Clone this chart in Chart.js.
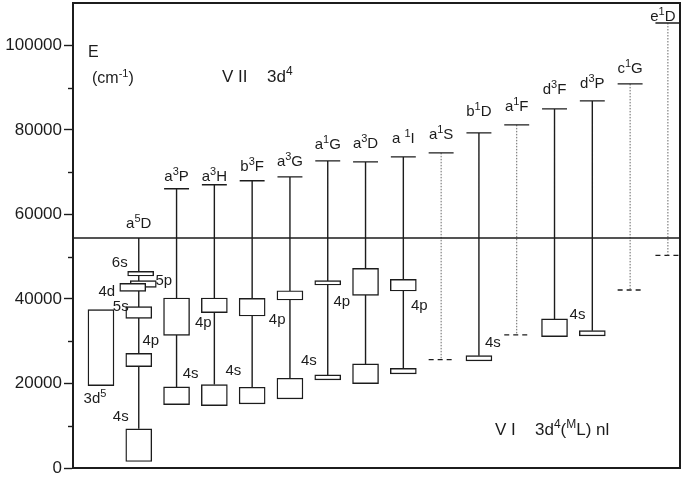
<!DOCTYPE html>
<html>
<head>
<meta charset="utf-8">
<script src="https://cdn.jsdelivr.net/npm/chart.js@4.4.0/dist/chart.umd.min.js"></script>
<style>
html, body { margin: 0; padding: 0; background: #fff; }
</style>
</head>
<body>
<canvas id="chart" width="683" height="477"></canvas>
<script>
// V II 3d4 parent terms (column 1..15), energies in cm-1
const parentTerms = ['a^{5}D', 'a^{3}P', 'a^{3}H', 'b^{3}F', 'a^{3}G', 'a^{1}G', 'a^{3}D', 'a ^{1}I', 'a^{1}S', 'b^{1}D', 'a^{1}F', 'd^{3}F', 'd^{3}P', 'c^{1}G', 'e^{1}D'];
const parentEnergy = [54411, 66050, 66990, 67940, 68880, 72660, 72420, 73610, 74550, 79280, 81170, 84950, 86840, 90860, 105270];
const parentSeen = [true, true, true, true, true, true, true, true, false, true, false, true, true, false, false];
const ionLimit = 54411;

// V I level groups drawn as boxes (column 0 = 3d5)
const boxColumn = [0, 1, 1, 1, 1, 1, 1, 2, 2, 3, 3, 4, 4, 5, 5, 6, 6, 7, 7, 8, 8, 10, 12, 13];
const boxConfig = ['3d^{5}', '6s', '5p', '4d', '5s', '4p', '4s', '4p', '4s', '4p', '4s', '4p', '4s', '4p', '4s', '4p', '4s', '4p', '4s', '4p', '4s', '4s', '4s', '4s'];
const boxLow  = [19490, 45420, 42720, 41780, 35400, 23980, 1540, 31380, 15010, 36740, 14770, 35960, 15170, 39750, 16350, 43290, 20840, 40830, 19970, 41870, 22260, 25330, 31070, 31240];
const boxHigh = [37450, 46500, 44310, 43670, 38160, 27130, 9260, 40220, 19190, 40220, 19730, 40120, 19090, 41940, 21220, 44310, 22020, 47210, 24620, 44610, 23580, 26580, 35260, 32490];

// estimated 4s levels under the unobserved parents
const estColumn = [9, 11, 14, 15];
const estEnergy = [25640, 31470, 42110, 50290];

const yTickValues = [0, 20000, 40000, 60000, 80000, 100000];

// layout only
const X_MIN = -0.74, X_MAX = 15.32;
const HALF = 0.33;
const boxNudge = { 1: 0.05, 2: 0.12, 3: -0.16 };
const labelGap = [10, 8, 4, 10, 11, 12, 14, 14, 14, 17, 14, 15, 13, 11, 2];
const labelShift = { 14: -5 };
// box index -> [edge, dx, dy] in pixels from the column line
const boxLabelPos = {
    0: ['lo', -6, 12], 1: ['hi', -19, -9], 2: ['hi', 25, -1], 3: ['hi', -32, 8],
    4: ['hi', -18, -1], 5: ['hi', 12, -13], 6: ['hi', -18, -13], 8: ['hi', 14, -14],
    9: ['lo', -11, 9], 10: ['hi', 19, -15], 11: ['lo', 25, 3], 14: ['hi', 19, -18],
    15: ['lo', 14, 16], 19: ['lo', 16, 14], 21: ['hi', 14, -14], 22: ['hi', 23, -5]
};

const FONT = '"Liberation Sans", Arial, Helvetica, sans-serif';
const INK = '#1c1c1c';

const solidSegs = [], dottedSegs = [], dashedSegs = [];
function seg(arr, x1, y1, x2, y2) {
    arr.push({ x: x1, y: y1 }, { x: x2, y: y2 }, { x: x2, y: null });
}

seg(solidSegs, X_MIN, ionLimit, X_MAX, ionLimit);
parentEnergy.forEach((e, p) => {
    const c = p + 1;
    seg(solidSegs, c - HALF, e, c + HALF, e);
    if (parentSeen[p]) {
        let lowest = -1;
        boxColumn.forEach((bc, i) => {
            if (bc === c && (lowest < 0 || boxLow[i] < boxLow[lowest])) lowest = i;
        });
        seg(solidSegs, c, e, c, boxHigh[lowest]);
    } else {
        const k = estColumn.indexOf(c);
        seg(dottedSegs, c, e, c, estEnergy[k]);
        seg(dashedSegs, c - HALF, estEnergy[k], c + HALF, estEnergy[k]);
    }
});

const boxData = boxColumn.map((c, i) => ({ x: c + (boxNudge[i] || 0), y: [boxLow[i], boxHigh[i]] }));

function parseRich(s) {
    const parts = [];
    const re = /\^\{([^}]*)\}/g;
    let last = 0, m;
    while ((m = re.exec(s))) {
        if (m.index > last) parts.push([s.slice(last, m.index), false]);
        parts.push([m[1], true]);
        last = re.lastIndex;
    }
    if (last < s.length) parts.push([s.slice(last), false]);
    return parts;
}

function drawRich(ctx, s, x, y, size, align) {
    const parts = parseRich(s);
    const supSize = Math.round(size * 0.7);
    let w = 0;
    parts.forEach(([t, sup]) => {
        ctx.font = (sup ? supSize : size) + 'px ' + FONT;
        w += ctx.measureText(t).width;
    });
    let cx = align === 'center' ? x - w / 2 : x;
    ctx.textAlign = 'left';
    ctx.textBaseline = 'alphabetic';
    parts.forEach(([t, sup]) => {
        ctx.font = (sup ? supSize : size) + 'px ' + FONT;
        ctx.fillText(t, cx, sup ? y - size * 0.4 : y);
        cx += ctx.measureText(t).width;
    });
}

const decor = {
    id: 'decor',
    afterDraw(chart) {
        const { ctx, chartArea: a, scales: { x, y } } = chart;
        ctx.save();
        ctx.strokeStyle = INK;
        ctx.lineWidth = 2;
        ctx.strokeRect(a.left, a.top, a.right - a.left, a.bottom - a.top);
        ctx.lineWidth = 1.4;
        for (let v = 10000; v < 100000; v += 20000) {
            const py = Math.round(y.getPixelForValue(v)) + 0.5;
            ctx.beginPath();
            ctx.moveTo(a.left - 5, py);
            ctx.lineTo(a.left, py);
            ctx.stroke();
        }
        ctx.fillStyle = INK;
        parentTerms.forEach((t, p) => {
            const px = x.getPixelForValue(p + 1) + (labelShift[p] || 0);
            const py = y.getPixelForValue(parentEnergy[p]) - labelGap[p];
            drawRich(ctx, t, px, py, 15, 'center');
        });
        Object.keys(boxLabelPos).forEach(k => {
            const i = +k;
            const [edge, dx, dy] = boxLabelPos[i];
            const px = x.getPixelForValue(boxColumn[i]) + dx;
            const py = y.getPixelForValue(edge === 'hi' ? boxHigh[i] : boxLow[i]) + dy + 5;
            drawRich(ctx, boxConfig[i], px, py, 15, 'center');
        });
        drawRich(ctx, 'E', 88, 57, 16, 'left');
        drawRich(ctx, '(cm^{-1})', 92, 83, 16, 'left');
        drawRich(ctx, 'V II', 222, 82, 17, 'left');
        drawRich(ctx, '3d^{4}', 267, 82, 17, 'left');
        drawRich(ctx, 'V I', 495, 435, 17, 'left');
        drawRich(ctx, '3d^{4}(^{M}L) nl', 535, 435, 17, 'left');
        ctx.restore();
    }
};

const lineBase = { type: 'line', pointRadius: 0, fill: false, tension: 0, spanGaps: false, order: 1 };

new Chart(document.getElementById('chart'), {
    type: 'bar',
    data: {
        datasets: [
            { ...lineBase, data: solidSegs, borderColor: INK, borderWidth: 1.4 },
            { ...lineBase, data: dottedSegs, borderColor: '#666', borderWidth: 1, borderDash: [1.5, 1.5] },
            { ...lineBase, data: dashedSegs, borderColor: INK, borderWidth: 1.3, borderDash: [5, 4] },
            {
                data: boxData,
                backgroundColor: '#fff',
                borderColor: INK,
                borderWidth: 1.4,
                borderSkipped: false,
                barThickness: 26,
                grouped: false,
                order: 0,
            },
        ],
    },
    options: {
        responsive: false,
        animation: false,
        layout: { padding: { left: 0, top: 3, right: 3, bottom: 9 } },
        plugins: { legend: { display: false }, tooltip: { enabled: false } },
        scales: {
            x: { type: 'linear', min: X_MIN, max: X_MAX, offset: false, display: false },
            y: {
                min: 0,
                max: 110000,
                afterFit(scale) {
                    scale.width = 73;
                    scale.paddingTop = 0;
                    scale.paddingBottom = 0;
                },
                afterBuildTicks(scale) { scale.ticks = yTickValues.map(v => ({ value: v })); },
                ticks: {
                    autoSkip: false,
                    padding: 2,
                    color: INK,
                    font: { family: FONT, size: 17 },
                    callback: v => String(v),
                },
                grid: { drawOnChartArea: false, tickLength: 9, tickColor: INK, tickWidth: 1.4 },
                border: { display: true, color: INK, width: 2 },
            },
        },
    },
    plugins: [decor],
});
</script>
</body>
</html>
